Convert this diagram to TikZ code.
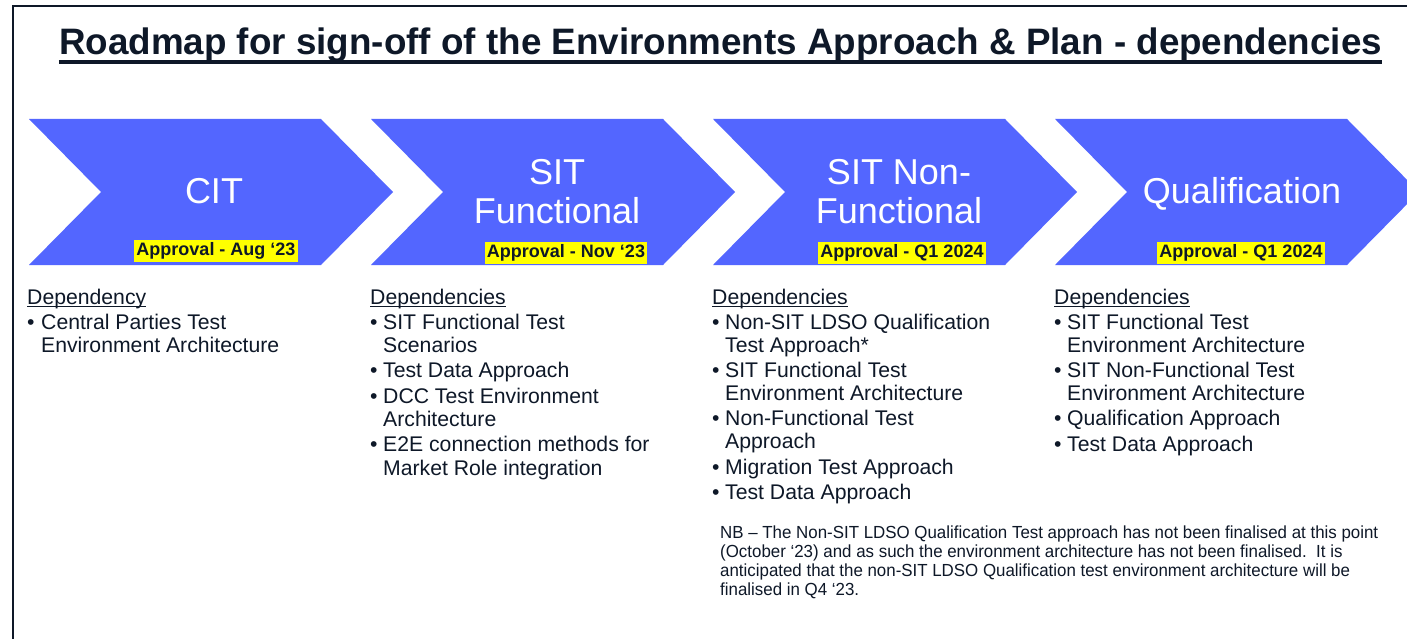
\documentclass[tikz,border=0pt]{standalone}
\usepackage{fontspec}
\setmainfont{Liberation Sans}
\newfontfamily\nbfont[FakeStretch=0.965]{Liberation Sans}
\definecolor{chev}{RGB}{83,102,255}
\definecolor{ink}{RGB}{14,24,40}
\definecolor{hl}{RGB}{255,255,0}
\tikzset{
  chevtext/.style={text=white, font=\fontsize{36}{36}\selectfont, inner sep=0pt, anchor=base},
  apprbox/.style={fill=hl, text=ink, font=\bfseries\fontsize{18}{18}\selectfont, inner xsep=2pt, inner ysep=0pt, text height=13.5pt, text depth=4pt, minimum height=22pt},
  deptext/.style={text=ink, font=\fontsize{21.2}{21.2}\selectfont, inner sep=0pt, anchor=base west},
  nbtext/.style={text=ink, font=\nbfont\fontsize{17.5}{17.5}\selectfont, inner sep=0pt, anchor=base west},
  uline/.style={ink, line width=1.3pt}
}
\begin{document}
\begin{tikzpicture}[x=1pt,y=-1pt]
\useasboundingbox (0,0) rectangle (1407,639);
\clip (0,0) rectangle (1407,639);
\fill[white] (0,0) rectangle (1407,639);
% frame
\draw[ink, line width=2.2pt] (1440,6) -- (13,6) -- (13,680);
% title
\node[text=ink, font=\bfseries\fontsize{36.8}{36.8}\selectfont, inner sep=0pt, anchor=base] (title) at (720.5,55) {Roadmap for sign-off of the Environments Approach \& Plan - dependencies};
\draw[ink, line width=3.2pt] ([yshift=-7pt]title.base west) -- ([yshift=-7pt]title.base east);
% chevrons
\foreach \i in {0,1,2,3}{
  \pgfmathsetmacro\xo{29+342*\i}
  \fill[chev] (\xo,119) -- ++(292,0) -- ++(72,73) -- ++(-72,73) -- ++(-292,0) -- ++(72,-73) -- cycle;
}
% chevron texts
\node[chevtext] (cit) at (214,204) {CIT};
\node[chevtext] (sitf1) at (557,185) {SIT};
\node[chevtext] (sitf2) at (557,223) {Functional};
\node[chevtext] (sitn1) at (899,185) {SIT Non-};
\node[chevtext] (sitn2) at (899,223) {Functional};
\node[chevtext] (qual) at (1242,204) {Qualification};
% approvals
\node[apprbox] (a1) at (216,251) {Approval - Aug ‘23};
\node[apprbox] (a2) at (566,253) {Approval - Nov ‘23};
\node[apprbox] (a3) at (902,253) {Approval - Q1 2024};
\node[apprbox] (a4) at (1241,253) {Approval - Q1 2024};
% column 1
\node[deptext] (h1) at (27,304) {Dependency};
\draw[uline] ([yshift=-2.5pt]h1.base west) -- ([yshift=-2.5pt]h1.base east);
\node[deptext] (b11) at (27,329) {•};
\node[deptext] (t11) at (41,329) {Central Parties Test};
\node[deptext] (t12) at (41,352) {Environment Architecture};
% column 2
\node[deptext] (h2) at (370,304) {Dependencies};
\draw[uline] ([yshift=-2.5pt]h2.base west) -- ([yshift=-2.5pt]h2.base east);
\foreach \y in {329,377,403,451}{\node[deptext] (b2-\y) at (370,\y) {•};}
\node[deptext] (t21) at (383,329) {SIT Functional Test};
\node[deptext] (t22) at (383,352) {Scenarios};
\node[deptext] (t23) at (383,377) {Test Data Approach};
\node[deptext] (t24) at (383,403) {DCC Test Environment};
\node[deptext] (t25) at (383,426) {Architecture};
\node[deptext] (t26) at (383,451) {E2E connection methods for};
\node[deptext] (t27) at (383,475) {Market Role integration};
% column 3
\node[deptext] (h3) at (712,304) {Dependencies};
\draw[uline] ([yshift=-2.5pt]h3.base west) -- ([yshift=-2.5pt]h3.base east);
\foreach \y in {329,377,425,474,499}{\node[deptext] (b3-\y) at (712,\y) {•};}
\node[deptext] (t31) at (725,329) {Non-SIT LDSO Qualification};
\node[deptext] (t32) at (725,352) {Test Approach*};
\node[deptext] (t33) at (725,377) {SIT Functional Test};
\node[deptext] (t34) at (725,400) {Environment Architecture};
\node[deptext] (t35) at (725,425) {Non-Functional Test};
\node[deptext] (t36) at (725,448) {Approach};
\node[deptext] (t37) at (725,474) {Migration Test Approach};
\node[deptext] (t38) at (725,499) {Test Data Approach};
% column 4
\node[deptext] (h4) at (1054,304) {Dependencies};
\draw[uline] ([yshift=-2.5pt]h4.base west) -- ([yshift=-2.5pt]h4.base east);
\foreach \y in {329,377,425,451}{\node[deptext] (b4-\y) at (1054,\y) {•};}
\node[deptext] (t41) at (1067,329) {SIT Functional Test};
\node[deptext] (t42) at (1067,352) {Environment Architecture};
\node[deptext] (t43) at (1067,377) {SIT Non-Functional Test};
\node[deptext] (t44) at (1067,400) {Environment Architecture};
\node[deptext] (t45) at (1067,425) {Qualification Approach};
\node[deptext] (t46) at (1067,451) {Test Data Approach};
% NB note
\node[nbtext] (nb1) at (720,538) {NB – The Non-SIT LDSO Qualification Test approach has not been finalised at this point};
\node[nbtext] (nb2) at (720,557) {(October ‘23) and as such the environment architecture has not been finalised.\ \ It is};
\node[nbtext] (nb3) at (720,576) {anticipated that the non-SIT LDSO Qualification test environment architecture will be};
\node[nbtext] (nb4) at (720,595) {finalised in Q4 ‘23.};
\end{tikzpicture}
\end{document}
